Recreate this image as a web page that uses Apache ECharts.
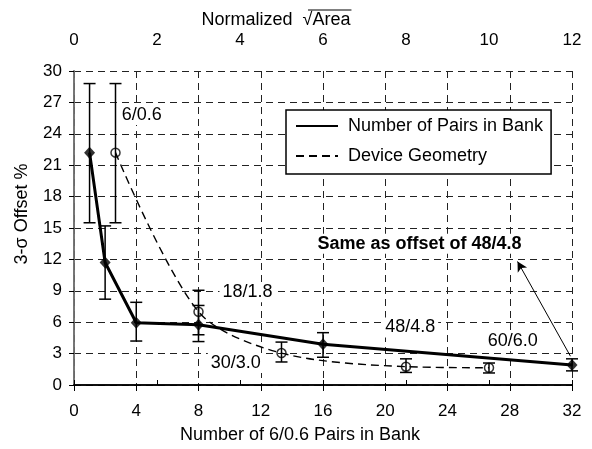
<!DOCTYPE html>
<html>
<head>
<meta charset="utf-8">
<script src="https://cdn.jsdelivr.net/npm/echarts@6/dist/echarts.min.js"></script>
<style>
html,body{margin:0;padding:0;background:#fff;}
#c{width:592px;height:449px;}
</style>
</head>
<body>
<div id="c"></div>
<script>
// ---- data ----
const xTicksBottom = [0, 4, 8, 12, 16, 20, 24, 28, 32];
const xTicksTop = [0, 2, 4, 6, 8, 10, 12];
const yTicks = [0, 3, 6, 9, 12, 15, 18, 21, 24, 27, 30];

const seriesNames = ['Number of Pairs in Bank', 'Device Geometry'];

// Number of 6/0.6 pairs in bank (bottom axis)
const pairsX = [1, 2, 4, 8, 16, 32];
const pairsY = [22.2, 11.7, 5.95, 5.75, 3.9, 1.9];
const pairsLow = [15.5, 8.2, 4.2, 4.15, 2.65, 1.35];
const pairsHigh = [28.8, 15.2, 7.9, 7.6, 5.0, 2.5];

// Device geometry (top axis: normalized sqrt(area))
const geomX = [1, 3, 5, 8, 10];
const geomY = [22.2, 7.0, 3.05, 1.75, 1.65];
const geomLow = [15.5, 4.8, 2.2, 1.2, 1.15];
const geomHigh = [28.8, 9.05, 4.1, 2.5, 2.1];

// annotation texts with anchor points in bottom-axis / y units
const noteTexts = ['6/0.6', '18/1.8', '30/3.0', '48/4.8', '60/6.0', 'Same as offset of 48/4.8'];
const noteX = [4.35, 11.15, 10.4, 21.6, 28.2, 22.2];
const noteY = [25.8, 8.85, 2.1, 5.5, 4.2, 13.5];
const noteBold = [false, false, false, false, false, true];

// arrow (from point near last pair value to bold note)
const arrowFrom = [31.9, 2.75];
const arrowTo = [28.5, 11.8];

const FONT = '"Liberation Sans", Arial, sans-serif';
const TICK_FS = 17;
const TEXT_FS = 18;

const chart = echarts.init(document.getElementById('c'), null, {renderer: 'canvas'});

function errRender(params, api) {
  const x = api.value(0), lo = api.value(1), hi = api.value(2);
  const a = api.coord([x, hi]);
  const b = api.coord([x, lo]);
  const w = 6;
  const st = {stroke: '#000', lineWidth: 1.5};
  return {
    type: 'group',
    children: [
      {type: 'line', shape: {x1: a[0], y1: a[1], x2: b[0], y2: b[1]}, style: st},
      {type: 'line', shape: {x1: a[0] - w, y1: a[1], x2: a[0] + w, y2: a[1]}, style: st},
      {type: 'line', shape: {x1: b[0] - w, y1: b[1], x2: b[0] + w, y2: b[1]}, style: st}
    ]
  };
}

function noteRender(params, api) {
  const i = params.dataIndex;
  const p = api.coord([api.value(0), api.value(1)]);
  return {
    type: 'text',
    x: p[0], y: p[1],
    style: {
      text: noteTexts[i],
      fill: '#000',
      font: (noteBold[i] ? 'bold ' : '') + TEXT_FS + 'px ' + FONT,
      textAlign: 'center',
      textVerticalAlign: 'middle',
      backgroundColor: '#fff',
      padding: [1, 3, 1, 3]
    }
  };
}

const option = {
  animation: false,
  backgroundColor: '#fff',
  textStyle: {fontFamily: FONT},
  grid: {left: 74, right: 20, top: 71, bottom: 62, containLabel: false},
  legend: {
    data: seriesNames,
    orient: 'vertical',
    left: 286, top: 110,
    itemWidth: 42, itemHeight: 14, itemGap: 12,
    padding: [7, 8, 9, 9],
    borderColor: '#000', borderWidth: 1.5,
    backgroundColor: '#fff',
    itemStyle: {opacity: 0},
    textStyle: {fontSize: TEXT_FS, color: '#000', fontFamily: FONT, padding: [0, 0, 0, 5]},
    selectedMode: false
  },
  xAxis: [
    {
      type: 'value', position: 'bottom', min: 0, max: 32, interval: 4,
      name: 'Number of 6/0.6 Pairs in Bank', nameLocation: 'middle', nameGap: 41,
      nameTextStyle: {fontSize: TEXT_FS, color: '#000', fontFamily: FONT, padding: [0, 46, 0, 0]},
      axisLine: {show: true, lineStyle: {color: '#000', width: 1.5}},
      axisTick: {show: true, length: 6, lineStyle: {color: '#000', width: 1}},
      axisLabel: {fontSize: TICK_FS, color: '#000', margin: 18, fontFamily: FONT},
      splitLine: {show: true, lineStyle: {color: '#222', type: [7, 5], width: 1}}
    },
    {
      type: 'value', position: 'top', min: 0, max: 12, interval: 2,
      axisLine: {show: true, lineStyle: {color: '#000', width: 1.5}},
      axisTick: {show: true, length: 5, lineStyle: {color: '#000', width: 1}},
      axisLabel: {fontSize: TICK_FS, color: '#000', margin: 22, fontFamily: FONT},
      splitLine: {show: false}
    }
  ],
  yAxis: [
    {
      type: 'value', min: 0, max: 30, interval: 3,
      name: '3-σ Offset %', nameLocation: 'middle', nameGap: 43,
      nameTextStyle: {fontSize: TEXT_FS, color: '#000', fontFamily: FONT, padding: [0, 0, 0, 28]},
      axisLine: {show: true, lineStyle: {color: '#000', width: 1.5}},
      axisTick: {show: true, length: 5, lineStyle: {color: '#000', width: 1}},
      axisLabel: {fontSize: TICK_FS, color: '#000', margin: 12, fontFamily: FONT},
      splitLine: {show: true, lineStyle: {color: '#222', type: [7, 5], width: 1}}
    },
    {
      type: 'value', min: 0, max: 30, interval: 3, position: 'right',
      axisLine: {show: true, lineStyle: {color: '#888', width: 1.5}},
      axisTick: {show: false}, axisLabel: {show: false}, splitLine: {show: false}
    }
  ],
  series: [
    {
      name: seriesNames[0], type: 'line', xAxisIndex: 0, yAxisIndex: 0,
      data: pairsX.map((x, i) => [x, pairsY[i]]),
      symbol: 'none', lineStyle: {color: '#000', width: 3}, itemStyle: {color: '#000'},
      z: 3,
      markLine: {
        silent: true, symbol: ['none', 'arrow'], symbolSize: [8, 10],
        label: {show: false},
        lineStyle: {color: '#000', width: 1, type: 'solid'},
        data: [[{coord: arrowFrom}, {coord: arrowTo}]]
      }
    },
    {
      name: seriesNames[1], type: 'line', xAxisIndex: 1, yAxisIndex: 0,
      data: geomX.map((x, i) => [x, geomY[i]]),
      symbol: 'none', smooth: 0.3,
      lineStyle: {color: '#000', width: 1.4, type: [8, 5]}, itemStyle: {color: '#000'},
      z: 3
    },
    {
      type: 'scatter', xAxisIndex: 0, yAxisIndex: 0,
      data: pairsX.map((x, i) => [x, pairsY[i]]),
      symbol: 'diamond', symbolSize: [11, 12],
      itemStyle: {color: '#000'}, z: 5
    },
    {
      type: 'scatter', xAxisIndex: 1, yAxisIndex: 0,
      data: geomX.map((x, i) => [x, geomY[i]]),
      symbol: 'circle', symbolSize: 9,
      itemStyle: {color: 'rgba(255,255,255,0)', borderColor: '#000', borderWidth: 1.5}, z: 5
    },
    {
      type: 'custom', xAxisIndex: 0, yAxisIndex: 0, renderItem: errRender,
      data: pairsX.map((x, i) => [x, pairsLow[i], pairsHigh[i]]), z: 6, silent: true
    },
    {
      type: 'custom', xAxisIndex: 1, yAxisIndex: 0, renderItem: errRender,
      data: geomX.map((x, i) => [x, geomLow[i], geomHigh[i]]), z: 6, silent: true
    },
    {
      type: 'custom', xAxisIndex: 0, yAxisIndex: 0, renderItem: noteRender,
      data: noteX.map((x, i) => [x, noteY[i]]), z: 2, silent: true, clip: false
    }
  ]
};
chart.setOption(option);

// top axis title "Normalized √Area" with overline on Area
(function () {
  const font = TEXT_FS + 'px ' + FONT;
  const cv = document.createElement('canvas').getContext('2d');
  cv.font = font;
  const pre = 'Normalized  ';
  const full = pre + '√Area';
  const wFull = cv.measureText(full).width;
  const wPre = cv.measureText(pre).width;
  const cx = 276, cy = 20;
  const x0 = cx - wFull / 2;
  chart.setOption({
    graphic: [
      {type: 'text', x: x0, y: cy, style: {text: full, font: font, fill: '#000', textAlign: 'left', textVerticalAlign: 'middle'}},
      {type: 'line', shape: {x1: x0 + wPre + cv.measureText('√').width * 0.55, y1: cy - 10, x2: x0 + wFull + 1, y2: cy - 10}, style: {stroke: '#000', lineWidth: 1}}
    ]
  });
})();
</script>
</body>
</html>
